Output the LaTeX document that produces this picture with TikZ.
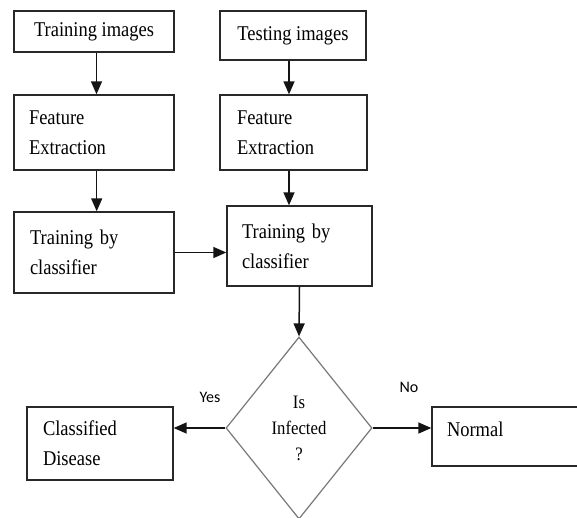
\documentclass[tikz,border=0pt]{standalone}
\usepackage{fontspec}
\setmainfont{Liberation Serif}[FakeStretch=0.88]
\newfontfamily\labelfont{Carlito}
\usetikzlibrary{shapes.geometric,arrows.meta}
\definecolor{boxline}{RGB}{40,40,40}
\definecolor{diagline}{RGB}{120,120,120}
\definecolor{arrline}{RGB}{20,20,20}
\tikzset{
  box/.style={draw=boxline, line width=1.4pt, rectangle, inner ysep=0pt,
    font=\fontsize{21}{30}\selectfont, align=left},
  decision/.style={draw=diagline, line width=1.2pt, diamond, inner sep=0pt,
    font=\fontsize{19}{26}\selectfont, align=center,
    minimum width=146pt, minimum height=182pt},
  arr/.style={draw=arrline, line width=1.5pt, -{Triangle[length=13pt,width=11pt]}},
  yesno/.style={font=\labelfont\fontsize{16}{18}\selectfont, inner sep=0pt, anchor=base}
}
\begin{document}
\begin{tikzpicture}[x=1pt,y=-1pt]
\useasboundingbox (0,0) rectangle (577,517);
\clip (0,0) rectangle (577,517);
\fill[white] (0,0) rectangle (577,517);

\node[box, align=center, minimum width=160pt, minimum height=41pt] (trimg) at (94,31.5) {Training images};
\node[box, align=center, minimum width=146pt, minimum height=49pt] (teimg) at (293,35.5) {Testing images};

\node[box, text width=130pt, inner xsep=15pt, minimum height=75pt] (fe1) at (94,132.5) {Feature\\Extraction};
\node[box, text width=113pt, inner xsep=17pt, minimum height=75pt] (fe2) at (293.5,132.5) {Feature\\Extraction};

\node[box, text width=128pt, inner xsep=16pt, minimum height=81pt] (cl1) at (94,252.5) {Training by\\classifier};
\node[box, text width=115pt, inner xsep=15pt, minimum height=80pt] (cl2) at (299.5,246) {Training by\\classifier};

\node[decision] (dia) at (299,428) {Is\\Infected\\?};

\node[box, text width=114pt, inner xsep=16pt, minimum height=73pt] (dis) at (100,443.5) {Classified\\Disease};
\node[box, text width=118pt, inner xsep=15pt, minimum height=59pt, text depth=14pt] (nor) at (506,436.5) {Normal};

\draw[arr] ([xshift=2.5pt]trimg.south) -- ([xshift=2.5pt]fe1.north);
\draw[arr] ([xshift=-4pt]teimg.south) -- ([xshift=-4.5pt]fe2.north);
\draw[arr] ([xshift=2.7pt]fe1.south) -- ([xshift=2.7pt]cl1.north);
\draw[arr] ([xshift=-4.5pt]fe2.south) -- ([xshift=-10.5pt]cl2.north);
\draw[arr] (cl1.east) -- (cl1.east -| cl2.west);
\draw[arr] (cl2.south) -- (dia.north);
\draw[arr] (dia.west) -- (dia.west -| dis.east);
\draw[arr] (dia.east) -- (dia.east -| nor.west);

\node[yesno] (yes) at (210,402) {Yes};
\node[yesno] (no) at (409,392) {No};
\end{tikzpicture}
\end{document}
